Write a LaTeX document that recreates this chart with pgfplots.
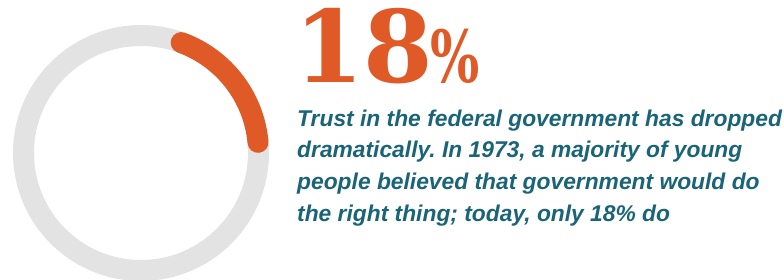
\documentclass[border=0pt]{standalone}
\usepackage{pgfplots}
\pgfplotsset{compat=1.18}
\usepackage{fontspec}
\setmainfont{Liberation Sans}
\newfontfamily\bigfont{DejaVu Serif}
\newfontfamily\bodyfont{Liberation Sans}
\definecolor{ringgray}{HTML}{E3E3E3}
\definecolor{accent}{HTML}{E05A28}
\definecolor{teal}{HTML}{1A6478}
\pgfmathsetmacro\share{18}
\frenchspacing
\begin{document}
\begin{tikzpicture}
\begin{axis}[x=1pt,y=1pt,xmin=0,xmax=784,ymin=0,ymax=280,hide axis,clip=true,
  scale only axis,at={(0,0)},anchor=south west]
\pgfmathsetmacro\cx{141}
\pgfmathsetmacro\cy{127}
\pgfmathsetmacro\rr{117.5}
\pgfmathsetmacro\sa{70}
\pgfmathsetmacro\ea{\sa-3.6*\share}
\draw[ringgray,line width=21pt] (axis cs:\cx,\cy) circle[radius=\rr pt];
\draw[accent,line width=21pt,line cap=round]
  (axis cs:{\cx+\rr*cos(\sa)},{\cy+\rr*sin(\sa)}) arc[start angle=\sa,end angle=\ea,radius=\rr pt];
\node[anchor=base west,inner sep=0,text=accent,font=\bigfont\bfseries\fontsize{100}{100}\selectfont] at (axis cs:294,197) {18};
\node[anchor=base west,inner sep=0,text=accent,xscale=0.72,font=\bigfont\bfseries\fontsize{72}{72}\selectfont] at (axis cs:430,197) {\%};
\begin{scope}[every node/.style={anchor=base west,inner sep=0,text=teal,font=\frenchspacing\bodyfont\bfseries\itshape\fontsize{22.8}{22.8}\selectfont}]
\node at (axis cs:297,153) {Trust in the federal government has dropped};
\node at (axis cs:297,122) {dramatically. In 1973, a majority of young};
\node at (axis cs:297,90) {people believed that government would do};
\node at (axis cs:297,58) {the right thing; today, only 18\% do};
\end{scope}
\end{axis}
\pgfresetboundingbox
\path (0,0) rectangle (784pt,280pt);
\end{tikzpicture}
\end{document}
